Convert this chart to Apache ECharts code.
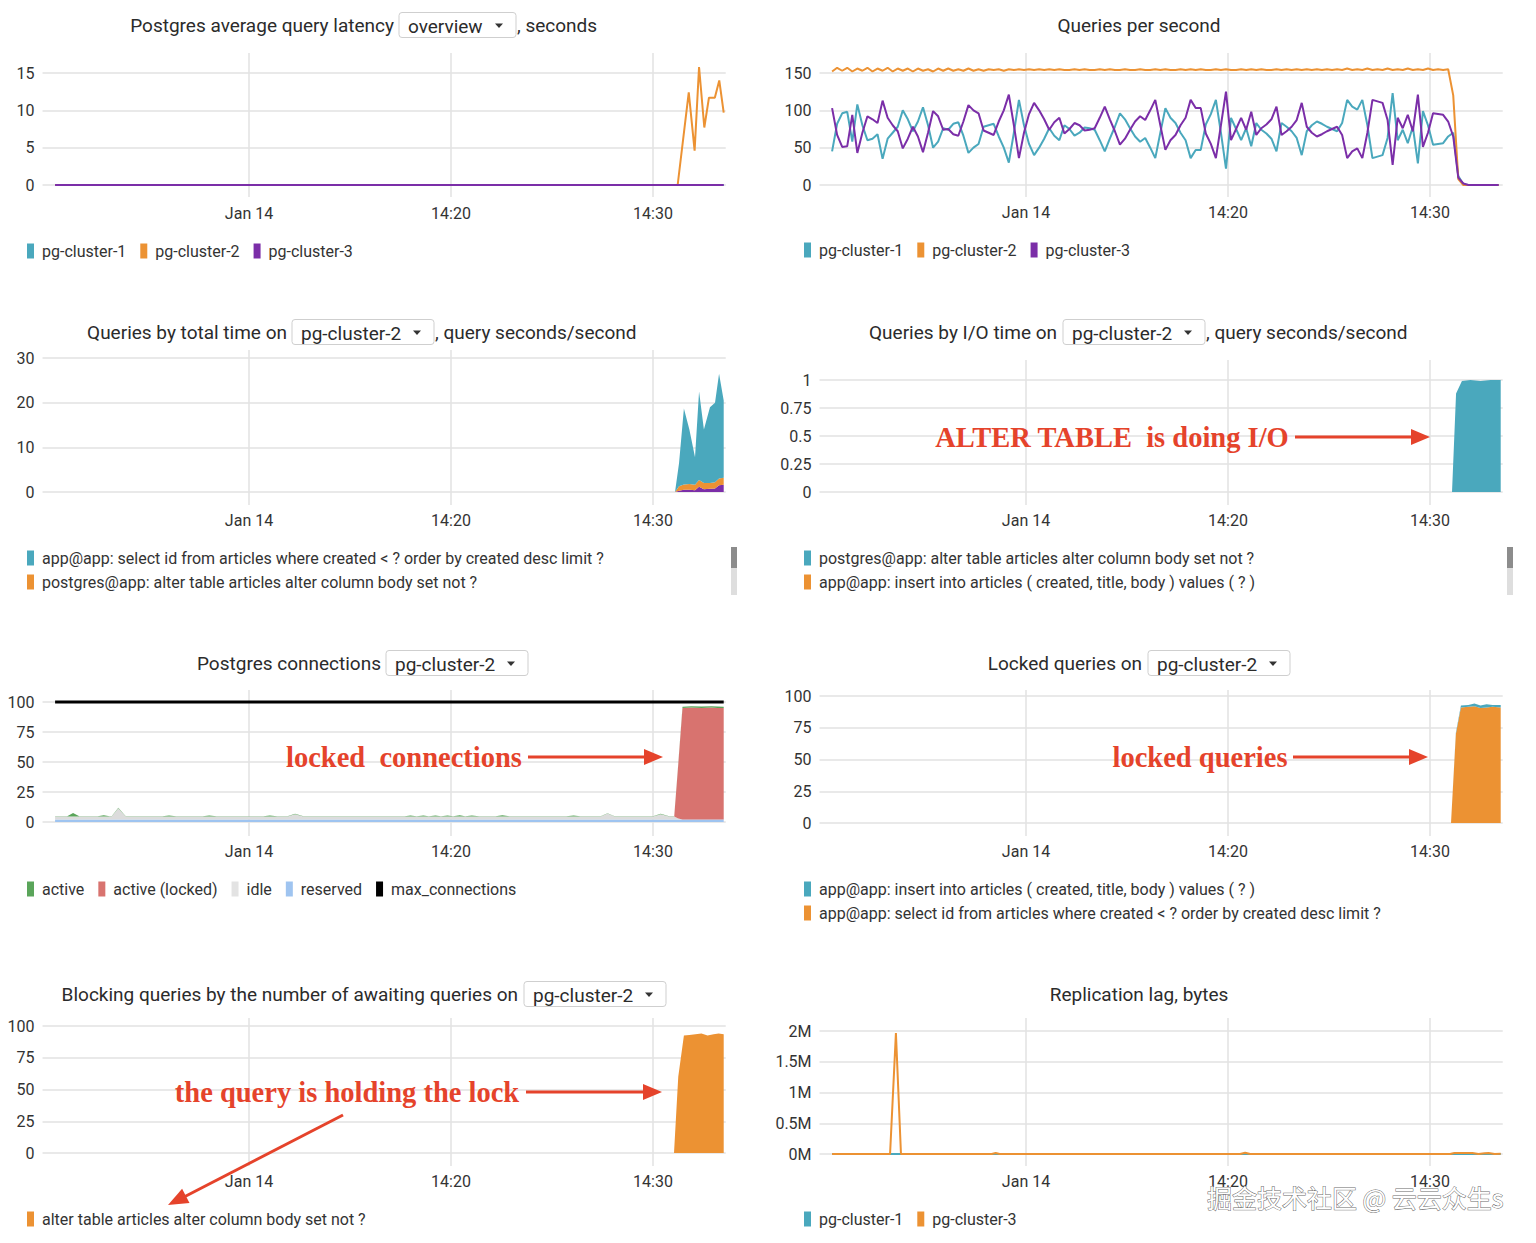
<!DOCTYPE html>
<html><head><meta charset="utf-8">
<script src="https://cdn.jsdelivr.net/npm/echarts@6/dist/echarts.min.js"></script>
<style>html,body{margin:0;padding:0;background:#fff}#c{width:1536px;height:1243px}</style>
</head><body><div id="c"></div>
<script>
// ---------------- data ----------------
// x values are minutes after 14:00 on Jan 14
const tickMinutes = [10, 20, 30];
const tickLabels = ['Jan 14', '14:20', '14:30'];

const TEAL = '#4aa8bd', ORANGE = '#ec9233', PURPLE = '#7b2ea8';

// Postgres average query latency, seconds
const latTime = [0.4, 31.22, 31.77, 32.06, 32.28, 32.54, 32.77, 33.06, 33.28, 33.5];
const latCluster1 = [0, 0, 0, 0, 0, 0, 0, 0, 0, 0];
const latCluster2 = [0, 0, 12.4, 4.6, 15.8, 7.7, 11.7, 11.7, 14, 9.7];
const latCluster3 = [0, 0, 0, 0, 0, 0, 0, 0, 0, 0];

// Queries per second (one sample every 15 s starting 14:00:24)
const qpsStart = 0.4, qpsStep = 0.25;
const qpsCluster1 = [45,82,96,98,58,108,80,60,62,68,
 35,62,70,78,100,88,72,85,104,80,
 50,58,76,74,82,84,66,43,50,55,
 78,80,82,65,50,30,70,114,80,55,
 40,50,62,76,66,60,80,75,66,70,
 77,76,74,60,45,62,78,96,88,76,
 65,58,63,50,36,70,103,90,83,70,
 60,36,47,47,81,95,114,70,22,90,
 75,60,76,52,83,74,69,62,45,83,
 78,72,63,40,72,80,85,82,78,75,
 72,83,114,105,101,114,80,36,38,40,
 63,123,60,74,56,78,29,99,80,54,
 55,56,65,70,12,1,0,0,0,0,
 0,0,0];
const qpsCluster2 = [152,157,153,157,152,156,153,157,152,156,
 153,157,152,156,153,156,152,156,153,155,
 152,156,153,156,153,155,153,156,153,155,
 153,155,154,155,153,155,154,155,154,155,
 154,155,154,155,154,155,154,154,155,154,
 155,154,154,155,154,155,154,154,155,154,
 154,155,154,154,155,154,155,154,154,155,
 154,155,154,155,154,154,155,154,155,154,
 154,155,154,155,154,155,154,154,155,154,
 155,154,155,154,155,154,155,154,155,154,
 155,154,156,154,155,154,156,154,155,154,
 156,154,155,154,156,154,155,154,156,154,
 155,154,155,120,8,0,0,0,0,0,
 0,0,0];
const qpsCluster3 = [103,67,51,52,94,43,70,92,88,83,
 113,90,80,72,49,62,78,65,44,70,
 99,92,74,75,68,66,85,107,100,96,
 73,70,67,85,100,121,80,36,70,95,
 110,100,88,74,84,90,69,75,83,80,
 73,74,76,90,105,88,72,54,62,74,
 85,92,87,100,114,80,47,60,67,80,
 90,114,103,103,69,55,36,80,125,60,
 75,90,74,98,67,76,81,88,105,67,
 72,78,87,110,78,70,65,68,72,75,
 78,67,36,45,49,36,70,114,112,110,
 87,27,90,76,94,72,121,51,70,96,
 95,94,85,65,10,2,0,0,0,0,
 0,0,0];

// Queries by total time on pg-cluster-2
const Q_SELECT = 'app@app: select id from articles where created < ? order by created desc limit ?';
const Q_ALTER = 'postgres@app: alter table articles alter column body set not ?';
const Q_INSERT = 'app@app: insert into articles ( created, title, body ) values ( ? )';
const Q_OTHER = 'app@app: other';
const qtTime = [0.4, 31.09, 31.29, 31.53, 31.8, 32.08, 32.28, 32.52, 32.82, 33.07, 33.27, 33.5];
const qtOther = [0, 0, 0.3, 0.5, 0.5, 0.4, 1.2, 0.6, 0.7, 0.8, 1.5, 1.6];
const qtAlter = [0, 0, 1.0, 1.2, 1.3, 1.2, 1.5, 1.4, 1.3, 1.4, 1.5, 1.6];
const qtSelect = [0, 0, 5.2, 17, 12.2, 6.2, 19.8, 12, 17, 17.8, 23.5, 17.3];

// Queries by I/O time on pg-cluster-2
const ioTime = [0.4, 31.09, 31.29, 31.58, 32.0, 32.5, 33.0, 33.5];
const ioAlter = [0, 0, 0.88, 0.99, 1.0, 0.99, 1.0, 1.0];
const ioInsert = [];

// Postgres connections on pg-cluster-2
const connTime = [0.4, 1.0, 1.29, 1.6, 2.5, 2.81, 3.1, 3.2, 3.53, 3.9,
 5.7, 6.04, 6.4, 7.7, 8.03, 8.4, 10.7, 11.03, 11.4, 11.9,
 12.28, 12.7, 17.7, 17.99, 18.3, 18.63, 18.9, 19.23, 19.5, 19.83,
 20.1, 20.43, 20.7, 21.03, 21.4, 22.2, 22.54, 22.9, 25.7, 26.07,
 26.4, 27.4, 27.75, 28.1, 30.0, 30.38, 30.8, 31.05, 31.25, 31.46,
 31.9, 32.4, 32.9, 33.2, 33.5];
const connReserved = [2,2,2,2,2,2,2,2,2,2, 2,2,2,2,2,2,2,2,2,2, 2,2,2,2,2,2,2,2,2,2,
 2,2,2,2,2,2,2,2,2,2, 2,2,2,2,2,2,2,2,2,2, 2,2,2,2,2];
const connIdle = [2.5,2.5,2.5,2.5,2.5,2.5,2.5,2.5,9.5,2.5,
 2.5,2.5,2.5,2.5,2.5,2.5,2.5,2.5,2.5,2.5,
 4.5,2.5,2.5,2.5,2.5,2.5,2.5,2.5,2.5,2.5,
 2.5,2.5,2.5,2.5,2.5,2.5,2.5,2.5,2.5,2.5,
 2.5,2.5,5,2.5,2.5,4.5,2.5,2.5,1,0,
 0,0,0,0,0];
const connLocked = [0,0,0,0,0,0,0,0,0,0, 0,0,0,0,0,0,0,0,0,0, 0,0,0,0,0,0,0,0,0,0,
 0,0,0,0,0,0,0,0,0,0, 0,0,0,0,0,0,0,0,45,93, 93.5,93,93.5,93,93];
const connActive = [0.3,0.3,3,0.3,0.3,1.2,0.3,0.3,0.3,0.3,
 0.3,1,0.3,0.3,1,0.3,0.3,1,0.3,0.3,
 0.3,0.3,0.3,1,0.3,1,0.3,1,0.3,1,
 0.3,1.2,0.3,1,0.3,0.3,1.2,0.3,0.3,1,
 0.3,0.3,0.3,0.3,0.3,0.3,0.3,0.3,0.5,1,
 1,1.2,1,1.2,1];
const maxConnTime = [0.4, 33.5];
const maxConnections = [100, 100];

// Locked queries on pg-cluster-2
const lqTime = [0.4, 31.04, 31.28, 31.53, 31.9, 32.2, 32.5, 32.8, 33.1, 33.5];
const lqSelect = [0, 0, 70, 91, 91.5, 92, 90.5, 91, 91.5, 91];
const lqInsert = [0, 0, 1, 1.5, 1.5, 2, 2, 2.5, 1.5, 2];

// Blocking queries by number of awaiting queries
const blTime = [0.4, 31.04, 31.25, 31.53, 31.8, 32.1, 32.4, 32.7, 33.0, 33.25, 33.5];
const blAlter = [0, 0, 60, 92.5, 93, 93.5, 94, 92.5, 93.5, 94, 93.5];

// Replication lag, bytes
const rlTime = [0.4, 3.27, 3.56, 3.81, 8.3, 8.5, 8.7, 20.6, 20.85, 21.1, 31.0, 31.2, 31.8, 32.1, 32.4, 32.7, 32.9, 33.2, 33.5];
const rlCluster1 = [0,0,0,0,0,0,0,0,0,0,0,0,0,0,0,0,0,0,0];
const rlCluster3 = [0, 0, 1965000, 0, 0, 15000, 0, 0, 20000, 0, 0, 15000, 15000, 15000, 0, 12000, 15000, 0, 5000];

// ---------------- build ----------------
const qpsTime = qpsCluster1.map((_, i) => +(qpsStart + i * qpsStep).toFixed(2));

const BASE_MS = Date.UTC(2024, 0, 14, 14, 0, 0);   // 14:00
const toMs = m => BASE_MS + Math.round(m * 60000);

const PPM = 20.2;            // pixels per minute
const COL_X = [42.56, 819.56];
const X_MIN = -0.22, X_MAX = 33.6;
const grid = [], xAxis = [], yAxis = [], series = [], legend = [], graphic = [];
const FONT = 'Roboto';
const TXT = '#2b2b2b';

function addPanel(p) {
  const gx = COL_X[p.col];
  const vi = grid.length;
  grid.push({left: gx + (0 - X_MIN) * PPM, top: p.vTop, width: X_MAX * PPM, height: p.vBot - p.vTop});
  xAxis.push({gridIndex: vi, type: 'value', min: 0, max: X_MAX, interval: 10,
    axisLine: {show: false}, axisTick: {show: false},
    axisLabel: {margin: p.lab - 8 - p.vBot, color: '#333', fontSize: 16, fontFamily: FONT,
      showMinLabel: false, showMaxLabel: false,
      formatter: v => { const i = tickMinutes.indexOf(v); return i >= 0 ? tickLabels[i] : ''; }},
    splitLine: {show: true, showMinLine: false, showMaxLine: false, lineStyle: {color: '#e2e2e2', width: 1.5}}});
  yAxis.push({gridIndex: vi, type: 'value', show: false, min: 0, max: 1, splitLine: {show: false}});
  const di = grid.length;
  grid.push({left: gx, top: p.top, width: (X_MAX - X_MIN) * PPM, height: p.bot - p.top});
  xAxis.push({gridIndex: di, type: 'time', min: toMs(X_MIN), max: toMs(X_MAX), show: false, splitLine: {show: false}});
  yAxis.push({gridIndex: di, type: 'value', min: 0, max: p.max, interval: p.int,
    axisLine: {show: false}, axisTick: {show: false},
    axisLabel: {margin: 8, color: '#333', fontSize: 16, fontFamily: FONT, formatter: p.fmt},
    splitLine: {show: true, lineStyle: {color: '#e9e9e9', width: 2}}});
  return di;
}
function pairs(t, v) { return v.map((y, i) => [toMs(t[i]), y]); }
function line(idx, name, t, v, color, width) {
  series.push({type: 'line', name, xAxisIndex: idx, yAxisIndex: idx, data: pairs(t, v),
    showSymbol: false, symbol: 'none', clip: false, animation: false,
    lineStyle: {color, width: width || 2}, itemStyle: {color}, emphasis: {disabled: true}});
}
function area(idx, name, t, v, color, stack) {
  series.push({type: 'line', name, xAxisIndex: idx, yAxisIndex: idx, data: pairs(t, v), stack,
    showSymbol: false, symbol: 'none', clip: false, animation: false,
    lineStyle: {color, width: 0}, itemStyle: {color}, areaStyle: {color, opacity: 1}, emphasis: {disabled: true}});
}
function addLegend(left, centerY, items, vertical) {
  legend.push({left, top: centerY - 9, orient: vertical ? 'vertical' : 'horizontal', padding: 0,
    itemWidth: 7, itemHeight: 15, itemGap: vertical ? 8 : 14, icon: 'rect', selectedMode: false,
    textStyle: {fontSize: 16, color: '#333', fontFamily: FONT, padding: [0, 0, 0, 3]},
    data: items.map(([name, color]) => ({name, icon: 'rect', itemStyle: {color, borderWidth: 0}}))});
}
function plainTitle(cx, cy, text) {
  graphic.push({type: 'text', x: cx, y: cy, z: 50, style: {text, fontSize: 19, fontFamily: FONT, fill: TXT,
    align: 'center', verticalAlign: 'middle'}});
}
// title with a dropdown box: pre text ends at preEnd, box spans boxL..boxR
function boxTitle(cy, pre, preEnd, box, boxL, boxR, post) {
  graphic.push({type: 'text', x: preEnd, y: cy, z: 50, style: {text: pre, fontSize: 19, fontFamily: FONT, fill: TXT,
    align: 'right', verticalAlign: 'middle'}});
  graphic.push({type: 'rect', z: 49, shape: {x: boxL, y: cy - 12.5, width: boxR - boxL, height: 25, r: 3},
    style: {fill: '#fff', stroke: '#cfcfcf', lineWidth: 1}});
  graphic.push({type: 'text', x: boxL + 9, y: cy + 1, z: 50, style: {text: box, fontSize: 19, fontFamily: FONT, fill: TXT,
    align: 'left', verticalAlign: 'middle'}});
  const ax = boxR - 17;
  graphic.push({type: 'polygon', z: 50, shape: {points: [[ax - 4, cy - 1.5], [ax + 4, cy - 1.5], [ax, cy + 3]]}, style: {fill: '#333'}});
  if (post) graphic.push({type: 'text', x: boxR + 1, y: cy, z: 50, style: {text: post, fontSize: 19, fontFamily: FONT, fill: TXT,
    align: 'left', verticalAlign: 'middle'}});
}
const RED = '#e5432b';
function note(cx, cy, text, x1, x2) {
  graphic.push({type: 'text', x: cx, y: cy, z: 60, style: {text, fontSize: 28.5, fontWeight: 'bold',
    fontFamily: '"Liberation Serif", "DejaVu Serif", serif', fill: RED, align: 'center', verticalAlign: 'middle'}});
  graphic.push({type: 'line', z: 60, shape: {x1, y1: cy, x2: x2 - 16, y2: cy}, style: {stroke: RED, lineWidth: 3}});
  graphic.push({type: 'polygon', z: 60, shape: {points: [[x2 - 19, cy - 8], [x2, cy], [x2 - 19, cy + 8]]}, style: {fill: RED}});
}

// Panel 1: latency
let i1 = addPanel({col: 0, vTop: 53, vBot: 197, lab: 213, top: 73, bot: 185, max: 15, int: 5});
line(i1, 'pg-cluster-1', latTime, latCluster1, TEAL);
line(i1, 'pg-cluster-2', latTime, latCluster2, ORANGE);
line(i1, 'pg-cluster-3', latTime, latCluster3, PURPLE);
boxTitle(25, 'Postgres average query latency', 394, 'overview', 399, 516, ', seconds');
addLegend(27, 252, [['pg-cluster-1', TEAL], ['pg-cluster-2', ORANGE], ['pg-cluster-3', PURPLE]]);

// Panel 2: QPS
let i2 = addPanel({col: 1, vTop: 53, vBot: 197, lab: 212, top: 73, bot: 185, max: 150, int: 50});
line(i2, 'pg-cluster-1', qpsTime, qpsCluster1, TEAL);
line(i2, 'pg-cluster-2', qpsTime, qpsCluster2, ORANGE);
line(i2, 'pg-cluster-3', qpsTime, qpsCluster3, PURPLE);
plainTitle(1139, 25, 'Queries per second');
addLegend(804, 251, [['pg-cluster-1', TEAL], ['pg-cluster-2', ORANGE], ['pg-cluster-3', PURPLE]]);

// Panel 3: queries by total time
let i3 = addPanel({col: 0, vTop: 350, vBot: 505, lab: 520, top: 358, bot: 492, max: 30, int: 10});
area(i3, Q_OTHER, qtTime, qtOther, PURPLE, 'qt');
area(i3, Q_ALTER, qtTime, qtAlter, ORANGE, 'qt');
area(i3, Q_SELECT, qtTime, qtSelect, TEAL, 'qt');
boxTitle(332, 'Queries by total time on', 287, 'pg-cluster-2', 292, 434, ', query seconds/second');
addLegend(27, 559, [[Q_SELECT, TEAL], [Q_ALTER, ORANGE]], true);

// Panel 4: queries by I/O time
let i4 = addPanel({col: 1, vTop: 360, vBot: 505, lab: 520, top: 380, bot: 492, max: 1, int: 0.25});
area(i4, Q_INSERT, ioTime, ioInsert, ORANGE, 'io');
area(i4, Q_ALTER, ioTime, ioAlter, TEAL, 'io');
boxTitle(332, 'Queries by I/O time on', 1057, 'pg-cluster-2', 1063, 1205, ', query seconds/second');
addLegend(804, 559, [[Q_ALTER, TEAL], [Q_INSERT, ORANGE]], true);
note(1112, 437, 'ALTER TABLE  is doing I/O', 1295, 1430);

// Panel 5: connections
let i5 = addPanel({col: 0, vTop: 690, vBot: 836, lab: 851, top: 702, bot: 822, max: 100, int: 25});
area(i5, 'reserved', connTime, connReserved, '#9fc4f0', 'conn');
area(i5, 'idle', connTime, connIdle, '#dcdcdc', 'conn');
area(i5, 'active (locked)', connTime, connLocked, '#d8736f', 'conn');
area(i5, 'active', connTime, connActive, '#5aa55a', 'conn');
line(i5, 'max_connections', maxConnTime, maxConnections, '#000000', 3);
boxTitle(663, 'Postgres connections', 381, 'pg-cluster-2', 386, 528);
addLegend(27, 890, [['active', '#5aa55a'], ['active (locked)', '#d8736f'], ['idle', '#e3e3e3'], ['reserved', '#9fc4f0'], ['max_connections', '#000000']]);
note(404, 757, 'locked  connections', 528, 663);

// Panel 6: locked queries
let i6 = addPanel({col: 1, vTop: 690, vBot: 836, lab: 851, top: 696, bot: 823, max: 100, int: 25});
area(i6, Q_SELECT, lqTime, lqSelect, ORANGE, 'lq');
area(i6, Q_INSERT, lqTime, lqInsert, TEAL, 'lq');
boxTitle(663, 'Locked queries on', 1142, 'pg-cluster-2', 1148, 1290);
addLegend(804, 890, [[Q_INSERT, TEAL], [Q_SELECT, ORANGE]], true);
note(1200, 757, 'locked queries', 1293, 1428);

// Panel 7: blocking queries
const Q_ALTER_SHORT = 'alter table articles alter column body set not ?';
let i7 = addPanel({col: 0, vTop: 1018, vBot: 1166, lab: 1181, top: 1026, bot: 1153, max: 100, int: 25});
area(i7, Q_ALTER_SHORT, blTime, blAlter, ORANGE, 'bl');
boxTitle(994, 'Blocking queries by the number of awaiting queries on', 518, 'pg-cluster-2', 524, 666);
addLegend(27, 1220, [[Q_ALTER_SHORT, ORANGE]]);
note(347, 1092, 'the query is holding the lock', 526, 662);
graphic.push({type: 'line', z: 60, shape: {x1: 343, y1: 1115, x2: 184, y2: 1197}, style: {stroke: RED, lineWidth: 3}});
graphic.push({type: 'polygon', z: 60, shape: {points: [[168, 1205], [182.1, 1188.8], [189.5, 1203.0]]}, style: {fill: RED}});

// Panel 8: replication lag
let i8 = addPanel({col: 1, vTop: 1018, vBot: 1166, lab: 1181, top: 1031, bot: 1154, max: 2000000, int: 500000,
  fmt: v => (v / 1000000) + 'M'});
line(i8, 'pg-cluster-1', rlTime, rlCluster1, TEAL);
line(i8, 'pg-cluster-3', rlTime, rlCluster3, ORANGE);
plainTitle(1139, 994, 'Replication lag, bytes');
addLegend(804, 1220, [['pg-cluster-1', TEAL], ['pg-cluster-3', ORANGE]]);

// legend scroll indicators
[[731, 547], [1507, 547]].forEach(([x, y]) => {
  graphic.push({type: 'rect', z: 50, shape: {x, y, width: 6, height: 21}, style: {fill: '#8c8c8c'}});
  graphic.push({type: 'rect', z: 50, shape: {x, y: y + 21, width: 6, height: 27}, style: {fill: '#dedede'}});
});

// watermark
graphic.push({type: 'text', x: 1207, y: 1197, z: 100, style: {text: '掘金技术社区 @ 云云众生s', fontSize: 25,
  fontFamily: '"Noto Sans CJK SC", sans-serif', fill: '#ffffff', stroke: '#6a6a6a', lineWidth: 1, verticalAlign: 'middle'}});

const chart = echarts.init(document.getElementById('c'), null, {renderer: 'svg', width: 1536, height: 1243});
chart.setOption({
  animation: false,
  textStyle: {fontFamily: FONT},
  grid, xAxis, yAxis, series, legend, graphic
});
</script>
</body></html>
